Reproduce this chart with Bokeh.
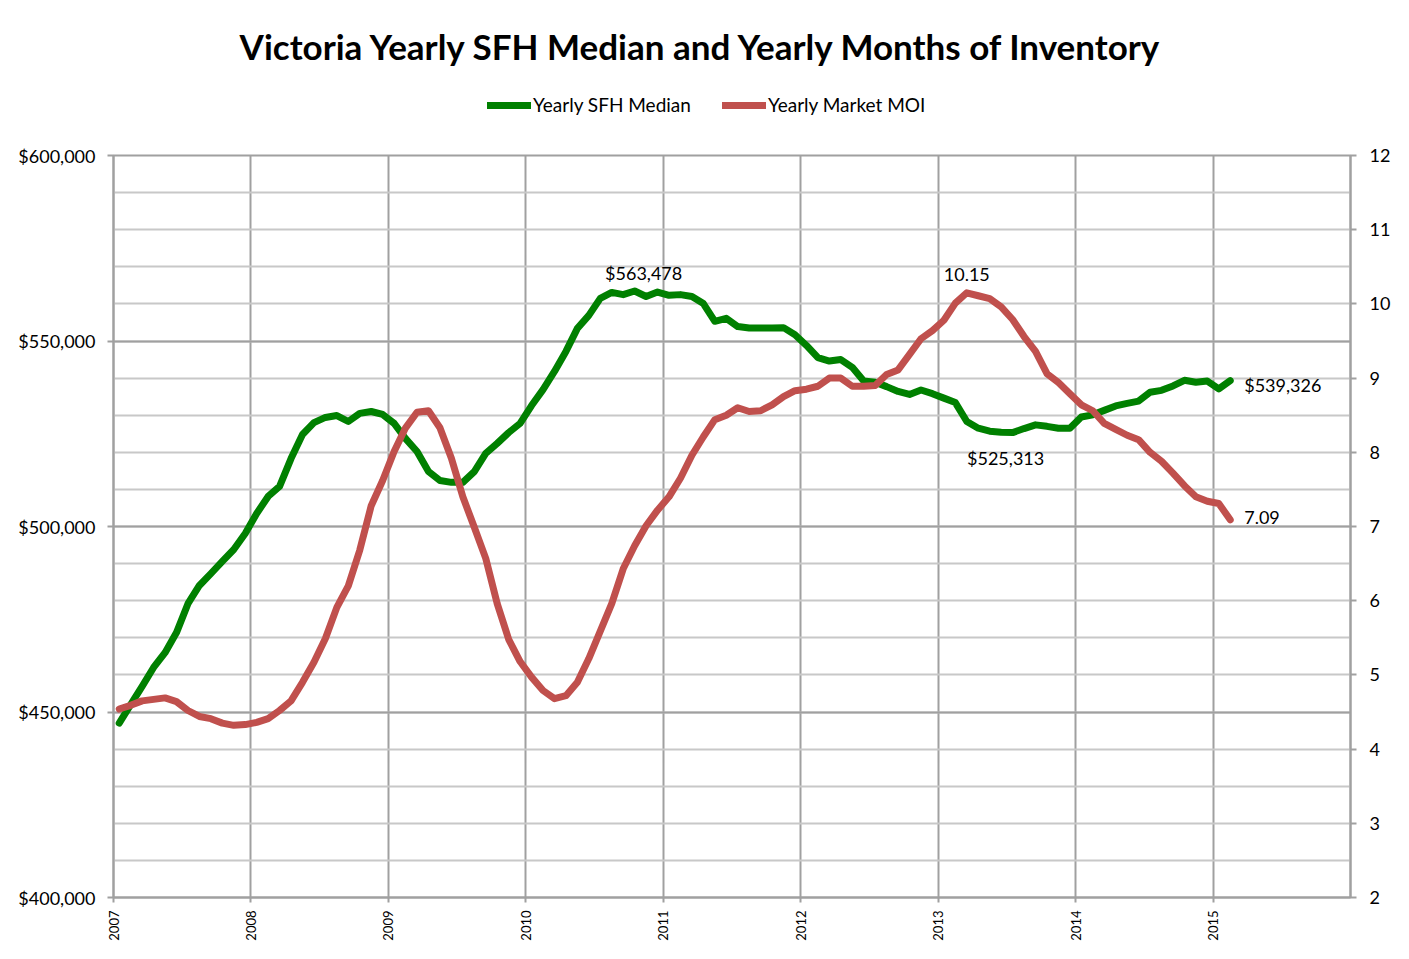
import numpy as np
from bokeh.plotting import figure
from bokeh.layouts import column
from bokeh.models import (Range1d, LinearAxis, FixedTicker, Label, Legend, LegendItem,
                          NumeralTickFormatter)
from bokeh.core.properties import value
from bokeh.embed import file_html
from bokeh.resources import INLINE

# ---------------- data ----------------
start_year = 2007
month_index = list(range(98))          # Jan 2007 .. Feb 2015 (monthly, plotted mid-month)

sfh_median = [
    447000, 452000, 456900, 462000, 466000, 471400, 479200, 484100, 487300, 490600,
    493800, 498100, 503500, 508100, 510800, 518300, 524800, 528000, 529400, 529900,
    528300, 530500, 531000, 530200, 527800, 523700, 520200, 514800, 512400, 511900,
    511900, 514800, 519700, 522400, 525300, 527800, 532600, 536900, 541800, 547200,
    553400, 556900, 561500, 563100, 562500, 563478, 562000, 563200, 562300, 562500,
    562000, 560100, 555300, 556100, 553900, 553500, 553500, 553500, 553600, 551700,
    548800, 545500, 544600, 545000, 542900, 539200, 538900, 537700, 536400, 535600,
    536800, 535800, 534600, 533400, 528300, 526500, 525700, 525400, 525313, 526400,
    527400, 527000, 526500, 526500, 529500, 530100, 531300, 532500, 533200, 533800,
    536200, 536700, 537900, 539400, 538900, 539200, 537100, 539326,
]

market_moi = [
    4.54, 4.59, 4.65, 4.67, 4.69, 4.64, 4.52, 4.44, 4.41, 4.35,
    4.32, 4.33, 4.36, 4.41, 4.52, 4.65, 4.90, 5.17, 5.49, 5.91,
    6.20, 6.68, 7.28, 7.62, 8.01, 8.33, 8.54, 8.56, 8.33, 7.92,
    7.40, 6.99, 6.57, 5.96, 5.48, 5.18, 4.97, 4.79, 4.68, 4.72,
    4.90, 5.22, 5.59, 5.96, 6.43, 6.74, 7.01, 7.22, 7.40, 7.65,
    7.96, 8.21, 8.44, 8.50, 8.60, 8.55, 8.56, 8.64, 8.75, 8.83,
    8.85, 8.89, 9.00, 9.00, 8.89, 8.89, 8.90, 9.05, 9.11, 9.32,
    9.53, 9.64, 9.78, 10.01, 10.15, 10.11, 10.07, 9.96, 9.79, 9.56,
    9.36, 9.06, 8.94, 8.79, 8.64, 8.56, 8.39, 8.31, 8.23, 8.17,
    8.00, 7.88, 7.72, 7.55, 7.40, 7.34, 7.31, 7.09,
]

year_ticks = list(range(2007, 2016))
year_grid = list(range(2007, 2017))
price_ticks = list(range(400000, 600001, 50000))
price_minor = list(range(400000, 600001, 10000))
moi_ticks = list(range(2, 13))

title_text = "Victoria Yearly SFH Median and Yearly Months of Inventory"
series_names = ["Yearly SFH Median", "Yearly Market MOI"]

# ---------------- styling ----------------
FONT = "Lato"
GREEN = "#008000"
RED = "#C0504D"
GRID = "#a0a0a0"
MINOR = "#c8c8c8"

W = 1393
HEAD_H = 140
MAIN_H = 803
LEFT, RIGHT, TOP, BOTTOM = 113, 40, 15, 46

xs = [start_year + (m + 0.5) / 12.0 for m in month_index]

# ---------------- header (title + legend) ----------------
# header frame is aligned with the main frame; its data units are page pixels
hdr = figure(width=W, height=HEAD_H, output_backend="svg", toolbar_location=None,
             x_range=Range1d(LEFT, W - RIGHT), y_range=Range1d(0, HEAD_H),
             x_axis_type=None, y_axis_type=None,
             min_border_left=LEFT, min_border_right=RIGHT, min_border_top=0, min_border_bottom=0)
hdr.outline_line_color = None
hdr.grid.visible = False
hdr.background_fill_color = "white"
hdr.border_fill_color = "white"

hdr.add_layout(Label(x=703, y=HEAD_H - 45, text=title_text, text_align="center",
                     text_baseline="middle", text_font=FONT, text_font_size="35px",
                     text_font_style="bold", text_color="black"))

# legend swatches: the series themselves, lying outside the header's visible range
k_sfh = hdr.line(xs, sfh_median, line_color=GREEN, line_width=7, line_cap="round")
k_moi = hdr.line(xs, market_moi, line_color=RED, line_width=7, line_cap="round")
legend = Legend(items=[LegendItem(label=series_names[0], renderers=[k_sfh]),
                       LegendItem(label=series_names[1], renderers=[k_moi])],
                orientation="horizontal", location=(487 - LEFT, HEAD_H - 116),
                padding=0, margin=0, spacing=31, glyph_width=44, glyph_height=20,
                label_height=20, label_standoff=2, label_text_font=FONT,
                label_text_font_size="19px", label_text_color="black",
                border_line_color=None, background_fill_alpha=0)
hdr.add_layout(legend)

# ---------------- main chart ----------------
p = figure(width=W, height=MAIN_H, output_backend="svg", toolbar_location=None,
           x_range=Range1d(2007, 2016), y_range=Range1d(400000, 600000),
           min_border_left=LEFT, min_border_right=RIGHT,
           min_border_top=TOP, min_border_bottom=BOTTOM)
p.extra_y_ranges = {"moi": Range1d(2, 12)}
p.background_fill_color = "white"
p.border_fill_color = "white"
p.outline_line_color = GRID
p.outline_line_width = 2

# grids
p.xgrid.ticker = FixedTicker(ticks=year_grid)
p.xgrid.grid_line_color = GRID
p.xgrid.grid_line_width = 2
p.ygrid.ticker = FixedTicker(ticks=price_ticks, minor_ticks=price_minor)
p.ygrid.grid_line_color = GRID
p.ygrid.grid_line_width = 2
p.ygrid.minor_grid_line_color = MINOR
p.ygrid.minor_grid_line_width = 2

# x axis
xa = p.xaxis[0]
xa.ticker = FixedTicker(ticks=year_ticks)
xa.major_label_orientation = np.pi / 2
xa.major_label_text_font = FONT
xa.major_label_text_font_size = "13px"
xa.major_label_text_color = "black"
xa.axis_line_color = GRID
xa.axis_line_width = 2
xa.major_tick_line_color = GRID
xa.major_tick_line_width = 2
xa.major_tick_in = 0
xa.major_tick_out = 5
xa.minor_tick_line_color = None
xa.major_label_standoff = 8

# left axis
ya = p.yaxis[0]
ya.ticker = FixedTicker(ticks=price_ticks)
ya.formatter = NumeralTickFormatter(format="$0,0")
ya.major_label_text_font = FONT
ya.major_label_text_font_size = "18px"
ya.major_label_text_color = "black"
ya.axis_line_color = GRID
ya.axis_line_width = 2
ya.major_tick_line_color = GRID
ya.major_tick_line_width = 2
ya.major_tick_in = 0
ya.major_tick_out = 6
ya.minor_tick_line_color = None
ya.major_label_standoff = 12

# right axis
ra = LinearAxis(y_range_name="moi", ticker=FixedTicker(ticks=moi_ticks))
ra.major_label_text_font = FONT
ra.major_label_text_font_size = "18px"
ra.major_label_text_color = "black"
ra.axis_line_color = GRID
ra.axis_line_width = 2
ra.major_tick_line_color = GRID
ra.major_tick_line_width = 2
ra.major_tick_in = 0
ra.major_tick_out = 6
ra.minor_tick_line_color = None
ra.major_label_standoff = 13
p.add_layout(ra, "right")

# lines
p.line(xs, sfh_median, line_color=GREEN, line_width=7, line_join="round", line_cap="round")
p.line(xs, market_moi, y_range_name="moi", line_color=RED, line_width=7,
       line_join="round", line_cap="round")

# data labels (anchored on data points)
i_peak = int(np.argmax(sfh_median))
i_trough = i_peak + int(np.argmin(sfh_median[i_peak:]))
i_last = len(sfh_median) - 1
i_moi_peak = int(np.argmax(market_moi))

lab_font = value(FONT)
common = dict(text_baseline="middle", text_font=lab_font, text_font_size="18px", text_color="black")
p.text(x=[xs[i_peak]], y=[sfh_median[i_peak]], text=["${:,.0f}".format(sfh_median[i_peak])],
       text_align="center", x_offset=9, y_offset=-18, **common)
p.text(x=[xs[i_trough]], y=[sfh_median[i_trough]], text=["${:,.0f}".format(sfh_median[i_trough])],
       text_align="center", x_offset=-7, y_offset=25, **common)
p.text(x=[xs[i_last]], y=[sfh_median[i_last]], text=["${:,.0f}".format(sfh_median[i_last])],
       text_align="left", x_offset=14, y_offset=4, **common)
p.text(x=[xs[i_moi_peak]], y=[market_moi[i_moi_peak]], text=["{:.2f}".format(market_moi[i_moi_peak])],
       y_range_name="moi", text_align="center", x_offset=0, y_offset=-18, **common)
p.text(x=[xs[i_last]], y=[market_moi[i_last]], text=["{:.2f}".format(market_moi[i_last])],
       y_range_name="moi", text_align="left", x_offset=14, y_offset=-2, **common)

layout = column(hdr, p, spacing=0)
open("out.html", "w").write(file_html(layout, INLINE))
